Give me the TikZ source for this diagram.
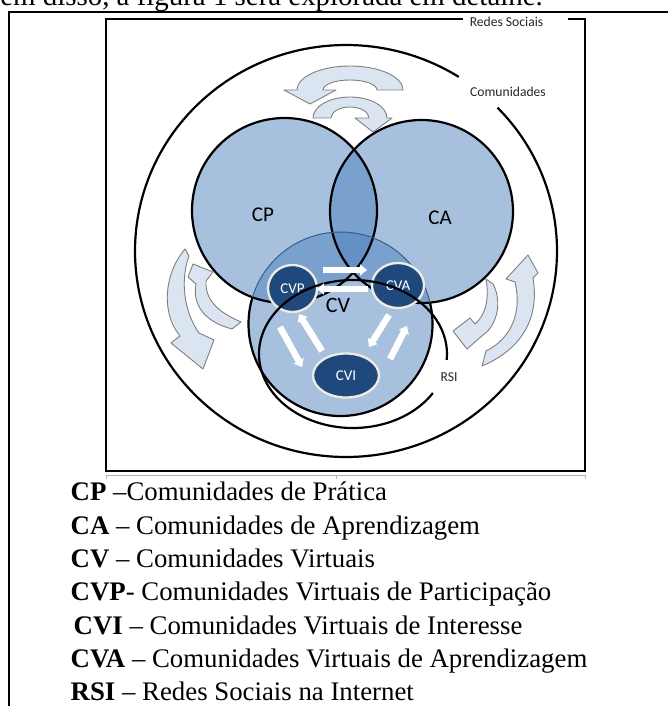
\documentclass[tikz,border=0pt]{standalone}
\usepackage{fontspec}
\setmainfont{Liberation Serif}
\newfontfamily\calib{Carlito}
\usetikzlibrary{shapes.geometric,arrows.meta}
\definecolor{accent}{HTML}{4F81BD}
\definecolor{accentdark}{HTML}{385D8A}
\definecolor{navy}{HTML}{1F497D}
\definecolor{cream}{HTML}{EEECE1}
\definecolor{arrowfill}{HTML}{DBE5F1}
\definecolor{arrowline}{HTML}{7F7F7F}
\begin{document}
\begin{tikzpicture}[x=1pt,y=-1pt,
  blk/.style={draw=black, line width=2.2pt},
  vennfill/.style={circle, fill=accent, fill opacity=0.5, inner sep=0pt, outer sep=0pt},
  smallell/.style={ellipse, fill=navy, draw=cream, line width=2.3pt, text=white, font=\calib\fontsize{15}{15}\selectfont, inner sep=0pt},
  wharrow/.style={draw=white, line width=6.5pt, -{Triangle[length=7pt,width=11pt]}},
  curvarrow/.style={fill=arrowfill, draw=arrowline, line width=0.9pt, line join=round},
  lbl/.style={font=\calib\fontsize{21}{21}\selectfont, inner sep=0pt},
  smalllbl/.style={font=\calib\fontsize{13.6}{14}\selectfont, inner sep=0pt},
  legend/.style={anchor=base west, inner sep=0pt, font=\fontsize{26.8}{30}\selectfont},
]
\useasboundingbox (0,0) rectangle (668,706);
\clip (0,0) rectangle (668,706);

% header (cut off)
\node[anchor=base east, inner sep=0pt, font=\fontsize{28.9}{30}\selectfont] (header) at (543,6) {Além disso, a figura 1 será explorada em detalhe.};

% frames
\draw[line width=1.7pt] (668,11.8) -- (9,11.8) -- (9,706);
\draw[line width=2.4pt] (463,19) -- (106,19) -- (106,471) -- (585,471) -- (585,19) -- (568,19);
\draw[gray!60, line width=0.8pt] (106,475) -- (585,475);
\draw[gray!60, line width=0.8pt] (106,475) -- (106,479) (336,475) -- (336,479) (585,475) -- (585,479);

% legend
\node[legend] (l1) at (70.5,500.7) {\textbf{CP} –Comunidades de Prática};
\node[legend] (l2) at (70.5,534.5) {\textbf{CA} – Comunidades de Aprendizagem};
\node[legend] (l3) at (70.5,567.8) {\textbf{CV} – Comunidades Virtuais};
\node[legend] (l4) at (70.5,600.7) {\textbf{CVP}- Comunidades Virtuais de Participação};
\node[legend] (l5) at (73.5,634) {\textbf{CVI} – Comunidades Virtuais de Interesse};
\node[legend] (l6) at (70.5,667.5) {\textbf{CVA} – Comunidades Virtuais de Aprendizagem};
\node[legend] (l7) at (70.5,700.7) {\textbf{RSI} – Redes Sociais na Internet};

% big "Comunidades" ellipse with a gap
\coordinate (bigc) at (346,251);
\draw[blk] (bigc) ++(-44.1:211 and 206) arc[start angle=-44.1, end angle=302.3, x radius=211, y radius=206];

% light curved arrows
\draw[curvarrow] (403,90) arc[start angle=0, end angle=-180, x radius=53, y radius=24] -- (284,90) -- (310,104) -- (336,90) -- (323,90) arc[start angle=180, end angle=360, x radius=27, y radius=10] -- cycle;
\draw[curvarrow] (313,118) arc[start angle=180, end angle=360, x radius=37, y radius=21] -- (392,118) -- (373,132) -- (355,118) -- (369,118) arc[start angle=0, end angle=-180, x radius=19, y radius=11] -- cycle;
\draw[curvarrow] (185,249) .. controls (165,272) and (160,312) .. (180,336) -- (171,343) -- (203,369) -- (214,340) -- (199,333) .. controls (184,312) and (180,280) .. (189,256) -- cycle;
\draw[curvarrow] (241,322) .. controls (218,312) and (205,300) .. (206,281) -- (213,272) -- (193,264) -- (188,277) -- (196,284) .. controls (192,305) and (205,322) .. (232,329) -- cycle;
\draw[curvarrow] (482,366) .. controls (520,350) and (540,320) .. (533,278) -- (538,273) -- (528,255) -- (506,279) -- (515,282) .. controls (522,312) and (512,338) .. (486,351) -- cycle;
\draw[curvarrow] (486,279) -- (493,284) .. controls (502,300) and (498,325) .. (483,335) -- (467,349) -- (453,331) -- (470,318) -- (475,324) .. controls (487,314) and (489,296) .. (486,279) -- cycle;

% Venn circles
\node[vennfill, minimum size=185pt] (cp) at (284.5,210.5) {};
\node[vennfill, minimum size=183pt] (ca) at (421.5,211.5) {};
\node[vennfill, minimum size=184pt] (cv) at (340.5,324) {};
\draw[blk] (cp.center) circle[radius=92.5];
\draw[blk] (ca.center) circle[radius=91.5];
\draw[draw=accentdark, line width=1pt] (cv.center) circle[radius=92];
\draw[blk] (cv.center) ++(-13.4:92) arc[start angle=-13.4, end angle=197, radius=92];

% small communities
\node[smallell, minimum width=49pt, minimum height=47pt] (cvp) at (292.5,288.5) {CVP};
\node[smallell, minimum width=52pt, minimum height=45pt] (cva) at (398,285.5) {CVA};
\node[smallell, minimum width=66pt, minimum height=44pt] (cvi) at (346,375.5) {CVI};

% RSI open ellipse
\coordinate (rsic) at (353,354);
\draw[blk] (rsic) ++(31.8:94 and 74) arc[start angle=31.8, end angle=364.6, x radius=94, y radius=74];

% white arrows
\coordinate (a1s) at (323,270); \coordinate (a1e) at (367,270);
\coordinate (a2s) at (368,289); \coordinate (a2e) at (317,289);
\coordinate (a3s) at (280,327); \coordinate (a3e) at (302,367);
\coordinate (a4s) at (322,351); \coordinate (a4e) at (299,314);
\coordinate (a5s) at (389,315); \coordinate (a5e) at (369,347);
\coordinate (a6s) at (390,359); \coordinate (a6e) at (407,326);
\draw[wharrow] (a1s) -- (a1e);
\draw[wharrow] (a2s) -- (a2e);
\draw[wharrow] (a3s) -- (a3e);
\draw[wharrow] (a4s) -- (a4e);
\draw[wharrow] (a5s) -- (a5e);
\draw[wharrow] (a6s) -- (a6e);

% labels
\node[lbl] (cplbl) at (263,215) {CP};
\node[lbl] (calbl) at (440,218) {CA};
\node[lbl, font=\calib\fontsize{22}{22}\selectfont] (cvlbl) at (338,305) {CV};
\node[smalllbl, text=black!85] (rsilbl) at (449,377) {RSI};
\node[smalllbl, text=black!85] (comlbl) at (508,92) {Comunidades};
\node[smalllbl, text=black!85] (redlbl) at (506.5,22) {Redes Sociais};
\end{tikzpicture}
\end{document}
